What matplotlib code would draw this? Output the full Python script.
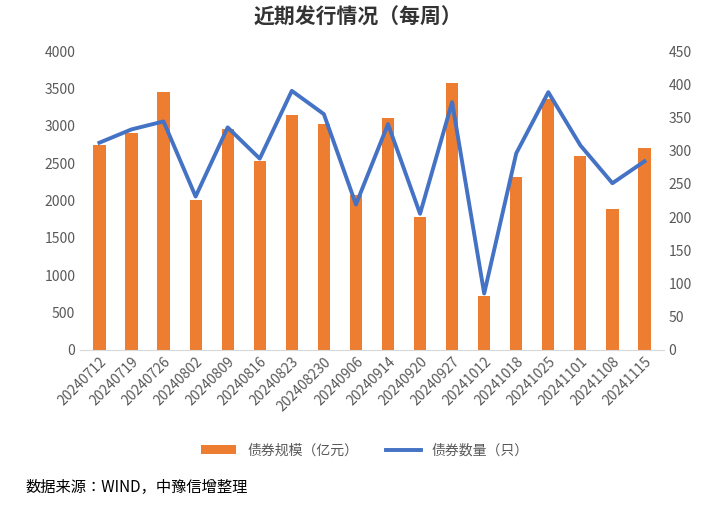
import matplotlib
matplotlib.use("Agg")
import matplotlib.pyplot as plt
from matplotlib import font_manager as fm
import numpy as np

cjk = None
for f in fm.findSystemFonts():
    if "CJK" in f or "cjk" in f.lower():
        try:
            fm.fontManager.addfont(f)
            name = fm.FontProperties(fname=f).get_name()
            if cjk is None or "SC" in name:
                cjk = name
        except Exception:
            pass
plt.rcParams["font.family"] = [cjk or "Noto Sans CJK SC", "DejaVu Sans"]

dates = ["20240712","20240719","20240726","20240802","20240809","20240816","20240823",
         "202408230","20240906","20240914","20240920","20240927","20241012","20241018",
         "20241025","20241101","20241108","20241115"]
scale = [2740,2900,3450,2010,2950,2530,3140,3030,2080,3110,1785,3570,725,2310,3355,2590,1880,2700]
count = [312,332,344,231,335,288,390,355,219,340,205,373,85,296,388,308,251,284]

fig = plt.figure(figsize=(7.16,5.05), dpi=100)
ax = fig.add_axes([0.112, 0.307, 0.815, 0.592])
x = np.arange(len(dates))
b = ax.bar(x, scale, width=0.38, color="#ED7D31", label="债券规模（亿元）")
ax.set_ylim(0,4000); ax.set_yticks(range(0,4001,500))
ax.set_xlim(-0.6, len(dates)-0.4)
ax.set_xticks(x); ax.set_xticklabels(dates, rotation=45, ha="right", rotation_mode="anchor", fontsize=10, color="#595959")
ax2 = ax.twinx()
l, = ax2.plot(x, count, color="#4472C4", lw=2.8, label="债券数量（只）")
ax2.set_ylim(0,450); ax2.set_yticks(range(0,451,50))
for a in (ax, ax2):
    for s in a.spines.values(): s.set_visible(False)
    a.tick_params(length=0, labelsize=10, colors="#595959")
ax.spines["bottom"].set_visible(True); ax.spines["bottom"].set_color("#D9D9D9")
fig.text(0.5, 0.965, "近期发行情况（每周）", ha="center", va="center", fontsize=15, fontweight="bold", color="#333333")
fig.legend([b, l], ["债券规模（亿元）", "债券数量（只）"], loc="center", bbox_to_anchor=(0.51, 0.108),
           ncol=2, frameon=False, fontsize=10, handlelength=2.5, columnspacing=2, labelcolor="#595959")
fig.text(0.035, 0.025, "数据来源：WIND，中豫信增整理", fontsize=11, color="#000000")
fig.savefig("out.png", dpi=100)
